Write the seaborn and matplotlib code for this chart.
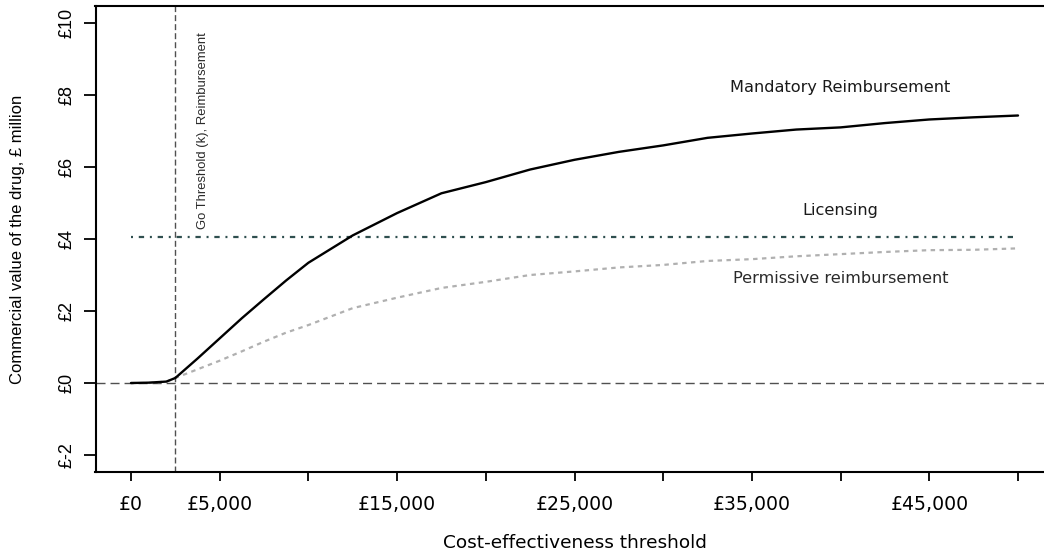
import matplotlib
matplotlib.use("Agg")
import matplotlib.pyplot as plt
import numpy as np
import pandas as pd
import seaborn as sns

# Cost-effectiveness thresholds (GBP per QALY) at which value was evaluated
threshold = [0, 1000, 2000, 2500, 3750, 5000, 6250, 7500, 8750, 10000,
             12500, 15000, 17500, 20000, 22500, 25000, 27500, 30000,
             32500, 35000, 37500, 40000, 42500, 45000, 47500, 50000]

# Commercial value of the drug (GBP million) under each policy
mandatory = [0.00, 0.01, 0.04, 0.14, 0.68, 1.24, 1.80, 2.33, 2.85, 3.34,
             4.10, 4.72, 5.27, 5.58, 5.93, 6.20, 6.42, 6.60,
             6.81, 6.93, 7.04, 7.10, 7.22, 7.32, 7.38, 7.43]
permissive = [0.00, 0.00, 0.04, 0.14, 0.38, 0.62, 0.88, 1.15, 1.40, 1.61,
              2.08, 2.37, 2.64, 2.81, 3.00, 3.10, 3.21, 3.28,
              3.39, 3.44, 3.52, 3.58, 3.64, 3.69, 3.70, 3.74]

licensing_value = 4.05
licensing_range = [0, 50000]
go_threshold = 2500

x_ticks = [0, 5000, 10000, 15000, 20000, 25000, 30000, 35000, 40000, 45000, 50000]
x_tick_labels = ["£0", "£5,000", "", "£15,000", "", "£25,000", "", "£35,000", "", "£45,000", ""]
y_ticks = [-2, 0, 2, 4, 6, 8, 10]
y_tick_labels = ["£-2", "£0", "£2", "£4", "£6", "£8", "£10"]

sns.set_theme(style="ticks")
plt.rcParams["font.family"] = ["DejaVu Sans"]

W, H = 1044, 557
fig = plt.figure(figsize=(W / 100, H / 100), dpi=100)
ax = fig.add_axes([95.5 / W, 84.7 / H, 958 / W, 466.6 / H])

df = pd.DataFrame({"threshold": threshold, "mandatory": mandatory, "permissive": permissive})
lic = pd.DataFrame({"threshold": licensing_range, "value": [licensing_value] * len(licensing_range)})

# reference lines: zero value and the go threshold
ax.axhline(0, color="#505050", lw=1.0, linestyle=(0, (6.5, 3.6)), zorder=1)
ax.axvline(go_threshold, color="#505050", lw=1.0, linestyle=(0, (4.3, 2.2)), zorder=1)

sns.lineplot(data=lic, x="threshold", y="value", ax=ax, color="#2f4f4f",
             lw=1.6, linestyle=(0, (0.9, 2.6, 2.4, 2.6)), legend=False, zorder=2)
sns.lineplot(data=df, x="threshold", y="permissive", ax=ax, color="#b0b0b0",
             lw=1.6, linestyle=(0, (2.0, 2.0)), legend=False, zorder=2)
sns.lineplot(data=df, x="threshold", y="mandatory", ax=ax, color="black",
             lw=1.7, legend=False, zorder=3)

ax.set_xlim(-2000, 52000)
ax.set_ylim(-2.48, 10.48)

ax.set_xticks(x_ticks)
ax.set_xticklabels(x_tick_labels, fontsize=13.6, color="black")
ax.set_yticks(y_ticks)
ax.set_yticklabels(y_tick_labels, fontsize=13, family="Liberation Sans",
                   rotation=90, va="center", color="black")
ax.tick_params(axis="x", direction="out", length=6.5, width=1.3, pad=10, color="black")
ax.tick_params(axis="y", direction="out", length=8.5, width=1.3, pad=6, color="black")

for side in ["left", "bottom", "top", "right"]:
    ax.spines[side].set_visible(True)
    ax.spines[side].set_linewidth(1.5)
    ax.spines[side].set_color("black")

ax.set_xlabel("Cost-effectiveness threshold", fontsize=13.3, color="black")
ax.xaxis.set_label_coords(0.5, -0.1515)
ax.xaxis.label.set_verticalalignment("center")
ax.set_ylabel("Commercial value of the drug, £ million", fontsize=12,
              family="Liberation Sans", color="black")
ax.yaxis.set_label_coords(-0.081, 0.5)
ax.yaxis.label.set_verticalalignment("center")

# curve annotations
ax.text(40000, 8.2, "Mandatory Reimbursement", fontsize=11.6, color="#1a1a1a",
        ha="center", va="center")
ax.text(40000, 4.78, "Licensing", fontsize=11.6, color="#1a1a1a",
        ha="center", va="center")
ax.text(40000, 2.9, "Permissive reimbursement", fontsize=11.6, color="#2a2a2a",
        ha="center", va="center")
ax.text(4060, 7.0, "Go Threshold (k), Reimbursement", fontsize=9.4,
        family="Liberation Sans", color="#2a2a2a", rotation=90,
        ha="center", va="center")

fig.savefig("out.png", dpi=100)
